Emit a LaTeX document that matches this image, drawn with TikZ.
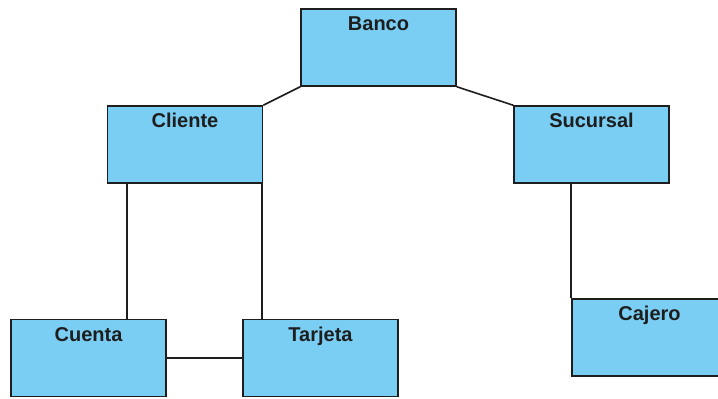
\documentclass[tikz,border=0pt]{standalone}
\usepackage{fontspec}
\setmainfont{Liberation Sans}
\definecolor{boxfill}{RGB}{122,206,244}
\definecolor{boxline}{RGB}{30,30,30}
\begin{document}
\begin{tikzpicture}[x=1pt,y=-1pt,
  box/.style={draw=boxline,fill=boxfill,line width=1.5pt,minimum width=155pt,minimum height=77pt,inner sep=0pt,rectangle},
  lbl/.style={anchor=base,inner sep=0pt,font=\fontsize{20}{24}\selectfont\bfseries,text=boxline},
  conn/.style={draw=boxline,line width=1.6pt}]
\useasboundingbox (0,0) rectangle (718,399);
\clip (0,0) rectangle (718,399);
\node[box] (banco) at (378.5,47.5) {};
\node[box] (cliente) at (185,144.5) {};
\node[box] (sucursal) at (591.5,144.5) {};
\node[box] (cuenta) at (88.5,358) {};
\node[box] (tarjeta) at (320.5,358) {};
\node[box] (cajero) at (649.5,337.5) {};
\node[lbl] (tbanco) at ([yshift=-22.5pt]banco.north) {Banco};
\node[lbl] (tcliente) at ([yshift=-22.5pt]cliente.north) {Cliente};
\node[lbl] (tsucursal) at ([yshift=-22.5pt]sucursal.north) {Sucursal};
\node[lbl] (tcuenta) at ([yshift=-22.5pt]cuenta.north) {Cuenta};
\node[lbl] (ttarjeta) at ([yshift=-22.5pt]tarjeta.north) {Tarjeta};
\node[lbl] (tcajero) at ([yshift=-22.5pt]cajero.north) {Cajero};
\coordinate (c1) at ([xshift=20pt]cliente.south west);
\coordinate (c2) at ([xshift=-1pt]cliente.south east);
\draw[conn] (banco.south west) -- (cliente.north east);
\draw[conn] (banco.south east) -- (sucursal.north west);
\draw[conn] (c1) -- (c1 |- cuenta.north);
\draw[conn] (c2) -- (c2 |- tarjeta.north);
\draw[conn] (cuenta.east) -- (tarjeta.west);
\draw[conn] (cajero.north west |- sucursal.south) -- (cajero.north west);
\end{tikzpicture}
\end{document}
